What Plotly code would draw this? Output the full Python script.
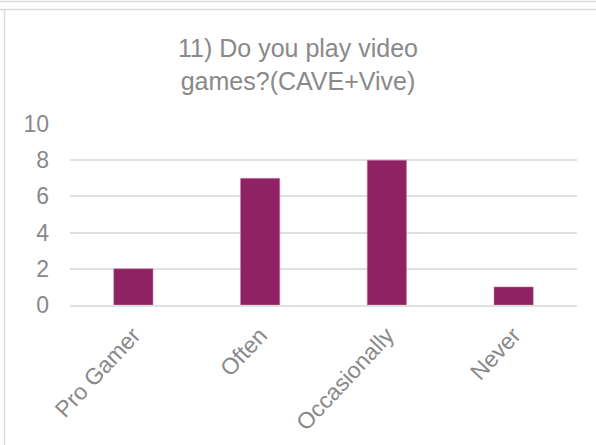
import plotly.graph_objects as go

categories = ["Pro Gamer", "Often", "Occasionally", "Never"]
values = [2, 7, 8, 1]
y_ticks = [0, 2, 4, 6, 8, 10]
title_lines = ["11) Do you play video", "games?(CAVE+Vive)"]

BAR = "#8E2263"
GRAY = "#898989"
GRID = "#E0E0E0"

fig = go.Figure(go.Bar(
    x=categories, y=values,
    marker=dict(color=BAR, line=dict(color="#C98AB0", width=0.5)),
    width=0.31,
))

W, H = 596, 445
L, R, T, B = 70, 19, 124, 140
pw, ph = W - L - R, H - T - B

def px(xp):
    return (xp - L) / pw

def py(yp):
    return (H - B - yp) / ph

border = dict(color="#D9D9D9", width=1.5)
shapes = [
    dict(type="line", xref="paper", yref="paper", x0=px(0), x1=px(W), y0=py(1.5), y1=py(1.5), line=border, layer="above"),
    dict(type="line", xref="paper", yref="paper", x0=px(0), x1=px(W), y0=py(9.5), y1=py(9.5), line=border, layer="above"),
    dict(type="line", xref="paper", yref="paper", x0=px(4.5), x1=px(4.5), y0=py(9.5), y1=py(H), line=border, layer="above"),
]

fig.update_layout(
    width=W, height=H,
    margin=dict(l=L, r=R, t=T, b=B, autoexpand=False),
    paper_bgcolor="white", plot_bgcolor="white",
    font=dict(family="Liberation Sans, Arial, sans-serif", color=GRAY),
    title=dict(text="<br>".join(title_lines), x=0.5, xanchor="center",
               y=1 - 57 / H, yanchor="middle",
               font=dict(size=25, color=GRAY)),
    showlegend=False,
    shapes=shapes,
    xaxis=dict(tickangle=-47, tickfont=dict(size=23, color=GRAY),
               showline=True, linecolor=GRID, linewidth=1.5, automargin=False,
               ticks="", showgrid=False, ticklabelstandoff=6),
    yaxis=dict(range=[0, 10], tickvals=y_ticks, tickfont=dict(size=23, color=GRAY),
               showgrid=True, gridcolor=GRID, gridwidth=1.5, automargin=False,
               zeroline=False, showline=False, ticks="", ticklen=0,
               ticklabelstandoff=20),
)

fig.write_html("out.html", config={"displayModeBar": False},
               post_script="document.body.style.margin='0';document.body.style.overflow='hidden';")
